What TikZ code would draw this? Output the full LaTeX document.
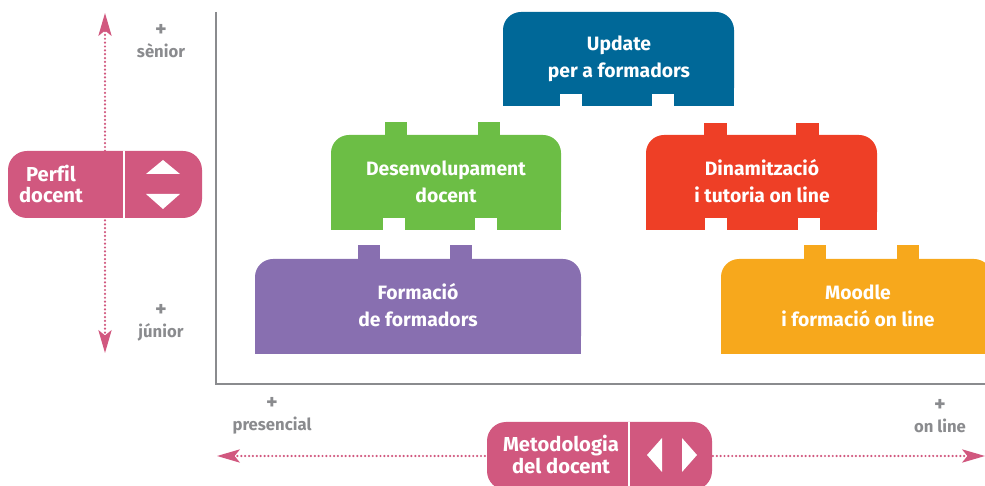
\documentclass[tikz,border=0pt]{standalone}
\usepackage{fontspec}
\setmainfont{Fira Sans}[Ligatures=NoCommon]
\usetikzlibrary{arrows.meta}

\definecolor{perfilpink}{HTML}{D1587F}
\definecolor{axisgray}{HTML}{8A8B8E}
\definecolor{updblue}{HTML}{006898}
\definecolor{desgreen}{HTML}{6CBE45}
\definecolor{dinred}{HTML}{EE3F26}
\definecolor{formpurple}{HTML}{886FB0}
\definecolor{moodorange}{HTML}{F7A81C}

\tikzset{
  boxtext/.style={text=white, font=\bfseries\fontsize{11}{15.3}\selectfont, align=center},
  keytext/.style={text=white, font=\bfseries\fontsize{11.5}{12.5}\selectfont, align=center},
  graytext/.style={text=axisgray, font=\bfseries\fontsize{9.5}{12}\selectfont, align=center},
  axis/.style={draw=axisgray, line width=1.4pt},
  dotarrow/.style={draw=perfilpink, line width=1.4pt, line cap=round,
    dash pattern=on 0pt off 2.2pt,
    {Stealth[length=13pt,width=7.5pt,inset=3pt]}-{Stealth[length=13pt,width=7.5pt,inset=3pt]}},
}
\newcommand{\mesplus}{{\fontsize{12.5}{12}\selectfont +}}

\begin{document}
\begin{tikzpicture}[x=0.02cm, y=-0.02cm]
\useasboundingbox (0,0) rectangle (985,486);

% axes
\coordinate (ytop) at (216,12);
\coordinate (origin) at (216,384);
\coordinate (xend) at (985,384);
\draw[axis] (ytop) -- (origin) -- (xend);

% perfil docent
\coordinate (senior) at (105,13);
\coordinate (junior) at (105,353);
\draw[dotarrow] (junior) -- (senior);
\fill[perfilpink, rounded corners=0.38cm] (8,151) rectangle (202,218);
\draw[white, line width=1.2pt] (124,151) -- (124,218);
\fill[white] (146,174) -- (163,160) -- (180,174) -- cycle;
\fill[white] (146,194) -- (163,209) -- (180,194) -- cycle;
\node[keytext] (perfil) at (51,184) {Perfil\\docent};
\node[graytext] (mes senior) at (161,41.5) {\mesplus\\sènior};
\node[graytext] (mes junior) at (161,322.5) {\mesplus\\júnior};

% metodologia del docent
\coordinate (presencial) at (217,456);
\coordinate (online) at (985,456);
\draw[dotarrow] (presencial) -- (online);
\fill[perfilpink, rounded corners=0.38cm] (487,422) rectangle (712,490);
\draw[white, line width=1.2pt] (629,422) -- (629,490);
\fill[white] (662,438) -- (647,455) -- (662,472) -- cycle;
\fill[white] (682,438) -- (697,455) -- (682,472) -- cycle;
\node[keytext] (metodologia) at (561,454) {Metodologia\\del docent};
\node[graytext] (mes presencial) at (272,416) {\mesplus\\presencial};
\node[graytext] (mes online) at (940,416) {\mesplus\\on line};

% update
\fill[updblue, rounded corners=0.36cm] (503,12) rectangle (734,106);
\fill[updblue] (503,60) rectangle (734,106);
\fill[white] (560,94) rectangle (582,106);
\fill[white] (652,94) rectangle (674,106);
\node[boxtext] (update) at (619,58.5) {Update\\per a formadors};

% desenvolupament
\fill[desgreen, rounded corners=0.36cm] (331,135) rectangle (561,230);
\fill[desgreen] (331,180) rectangle (561,230);
\fill[desgreen] (385,122) rectangle (407,136);
\fill[desgreen] (478,122) rectangle (500,136);
\fill[white] (383,218) rectangle (405,231);
\fill[white] (475,218) rectangle (497,231);
\node[boxtext] (desenvolupament) at (446,181.5) {Desenvolupament\\docent};

% dinamitzacio
\fill[dinred, rounded corners=0.36cm] (646,135) rectangle (877,230);
\fill[dinred] (646,180) rectangle (877,230);
\fill[dinred] (704,123) rectangle (727,136);
\fill[dinred] (796,123) rectangle (819,136);
\fill[white] (705,218) rectangle (727,231);
\fill[white] (798,218) rectangle (820,231);
\node[boxtext] (dinamitzacio) at (762,181.5) {Dinamització\\i tutoria on line};

% formacio
\fill[formpurple, rounded corners=0.36cm] (255,259) rectangle (581,354);
\fill[formpurple] (255,300) rectangle (581,354);
\fill[formpurple] (358,245) rectangle (380,260);
\fill[formpurple] (450,245) rectangle (472,260);
\node[boxtext] (formacio) at (418,305.5) {Formació\\de formadors};

% moodle
\fill[moodorange, rounded corners=0.36cm] (721,259) rectangle (992,354);
\fill[moodorange] (721,300) rectangle (992,354);
\fill[moodorange] (804,245) rectangle (826,260);
\fill[moodorange] (897,245) rectangle (919,260);
\node[boxtext] (moodle) at (858,305.5) {Moodle\\i formació on line};
\end{tikzpicture}
\end{document}
